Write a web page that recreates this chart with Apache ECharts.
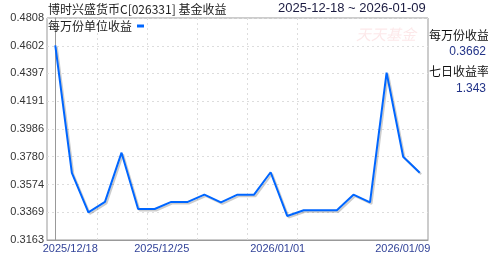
<!DOCTYPE html>
<html>
<head>
<meta charset="utf-8">
<script src="https://cdn.jsdelivr.net/npm/echarts@6/dist/echarts.min.js"></script>
<style>
html,body{margin:0;padding:0;background:#fff;}
#c{width:488px;height:255px;}
</style>
</head>
<body>
<div id="c"></div>
<script>
// ---- data ----
var dates = ['2025/12/18','2025/12/19','2025/12/20','2025/12/21','2025/12/22','2025/12/23','2025/12/24',
             '2025/12/25','2025/12/26','2025/12/27','2025/12/28','2025/12/29','2025/12/30','2025/12/31',
             '2026/01/01','2026/01/02','2026/01/03','2026/01/04','2026/01/05','2026/01/06','2026/01/07',
             '2026/01/08','2026/01/09'];
var perTenK = [0.4605,0.3660,0.3368,0.3445,0.3810,0.3393,0.3393,
               0.3445,0.3445,0.3499,0.3442,0.3499,0.3499,0.3665,
               0.3341,0.3383,0.3383,0.3383,0.3499,0.3442,0.4403,
               0.3780,0.3662];
var yTicks = [0.3163,0.3369,0.3574,0.3780,0.3986,0.4191,0.4397,0.4602,0.4808];
var xLabelIdx = [0,7,14,22];
var titleText = '博时兴盛货币C[026331] 基金收益';
var rangeText = '2025-12-18 ~ 2026-01-09';
var seriesName = '每万份单位收益';
var latestPerTenK = '0.3662';
var sevenDayYield = '1.343';

var chart = echarts.init(document.getElementById('c'), null, {renderer:'canvas'});
var pts = perTenK.map(function(v,i){return [i,v];});
var cjk = '"Noto Sans CJK SC", sans-serif';
var lat = '"Liberation Sans", Arial, sans-serif';
var clear = 'rgba(0,0,0,0)';

chart.setOption({
  animation:false,
  backgroundColor:'#fff',
  title:[
    {text:titleText, left:48, top:3, padding:0, textStyle:{fontSize:12, fontWeight:'normal', color:'#222', fontFamily:cjk}},
    {text:rangeText, left:278, top:2, padding:0, textStyle:{fontSize:13, fontWeight:'normal', color:'#1a1a40', fontFamily:lat}},
    {text:'每万份收益', left:429, top:29, padding:0, textStyle:{fontSize:12, fontWeight:'normal', color:'#111', fontFamily:cjk}},
    {text:latestPerTenK, right:2, top:46, padding:0, textStyle:{fontSize:12, fontWeight:'normal', color:'#223388', fontFamily:lat}},
    {text:'七日收益率', left:429, top:65, padding:0, textStyle:{fontSize:12, fontWeight:'normal', color:'#111', fontFamily:cjk}},
    {text:sevenDayYield, right:2, top:83, padding:0, textStyle:{fontSize:12, fontWeight:'normal', color:'#223388', fontFamily:lat}}
  ],
  graphic:[
    {type:'text', left:356, top:27, silent:true, style:{text:'天天基金', fill:'rgba(235,110,120,0.16)', font:'italic 15px '+cjk}}
  ],
  legend:{
    left:48, top:20, padding:0, align:'right', icon:'rect', itemWidth:7, itemHeight:3, itemGap:5,
    textStyle:{fontSize:12, color:'#222', fontFamily:cjk},
    data:[seriesName]
  },
  grid:{left:47, right:60, top:18, bottom:15, show:true, borderColor:'#999', borderWidth:1, containLabel:false},
  xAxis:[
    {
      type:'value', min:-0.5, max:dates.length-0.5,
      axisLine:{show:true, lineStyle:{color:'#999'}},
      axisTick:{show:false, customValues:xLabelIdx},
      splitLine:{show:false},
      axisLabel:{
        customValues:xLabelIdx, margin:3, fontSize:11, fontFamily:lat, color:'#334499',
        formatter:function(v){
          var i = Math.round(v);
          if (i === 0) return '{f|'+dates[i]+'}';
          if (i === dates.length-1) return '{l|'+dates[i]+'}';
          return '{m|'+dates[i]+'}';
        },
        rich:{
          f:{padding:[0,0,0,30], fontSize:11, fontFamily:lat, color:'#334499'},
          m:{padding:[0,19,0,0], fontSize:11, fontFamily:lat, color:'#334499'},
          l:{padding:[0,34,0,0], fontSize:11, fontFamily:lat, color:'#334499'}
        }
      }
    },
    {
      type:'value', min:0, max:381/50, interval:1, position:'top', show:true,
      axisLine:{show:false}, axisTick:{show:false}, axisLabel:{show:false},
      splitLine:{show:true, lineStyle:{type:[2,3], width:1,
        color:[clear,'#dddddd','#dddddd','#dddddd','#dddddd','#dddddd',clear,clear,clear,clear]}}
    }
  ],
  yAxis:{
    type:'value', min:yTicks[0], max:yTicks[yTicks.length-1],
    axisLine:{show:true, lineStyle:{color:'#999'}},
    axisTick:{show:false, customValues:yTicks},
    axisLabel:{customValues:yTicks, margin:3, fontSize:11, fontFamily:lat, color:'#333',
      formatter:function(v){return v.toFixed(4);}},
    splitLine:{show:true, lineStyle:{type:[2,3], color:'#dddddd', width:1}}
  },
  series:[{
    name:seriesName, type:'line', data:pts, xAxisIndex:0, showSymbol:false, symbol:'none',
    itemStyle:{color:'#0066ff'},
    lineStyle:{color:'#0066ff', width:2, shadowColor:'rgba(0,0,0,0.2)', shadowBlur:0, shadowOffsetX:1.5, shadowOffsetY:1.5}
  }]
});
</script>
</body>
</html>
